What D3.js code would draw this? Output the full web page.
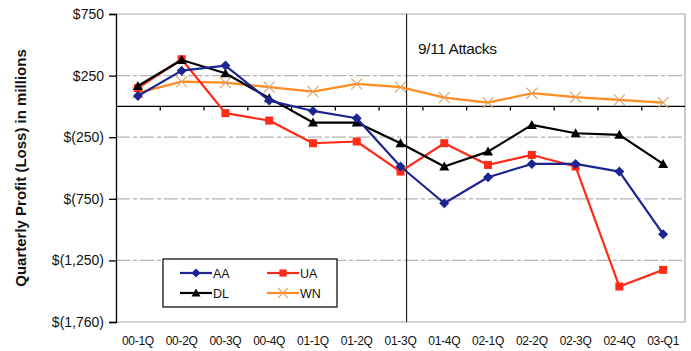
<!DOCTYPE html>
<html>
<head>
<meta charset="utf-8">
<script src="https://cdn.jsdelivr.net/npm/d3@7"></script>
<style>
  html, body { margin: 0; padding: 0; background: #fff; }
  svg { display: block; font-family: "Liberation Sans", Arial, sans-serif; }
</style>
</head>
<body>
<svg id="chart" width="691" height="351"></svg>
<script>
// Quarterly profit (loss), $ millions, by airline
const quarters = ["00-1Q","00-2Q","00-3Q","00-4Q","01-1Q","01-2Q","01-3Q","01-4Q","02-1Q","02-2Q","02-3Q","02-4Q","03-Q1"];
const aa = [85, 290, 331, 47, -37, -96, -488, -786, -575, -467, -467, -529, -1037];
const ua = [148, 383, -55, -115, -299, -285, -529, -299, -475, -394, -488, -1462, -1327];
const dl = [166, 377, 269, 67, -131, -131, -299, -488, -367, -150, -218, -231, -467];
const wn = [110, 201, 193, 156, 120, 183, 156, 71, 31, 107, 75, 53, 31];

const yTicks = [750, 250, -250, -750, -1250, -1750];
const yTickLabels = ["$750", "$250", "$(250)", "$(750)", "$(1,250)", "$(1,760)"];
const yDomain = [-1750, 750];

// Event marker: position on the category axis (in quarter units from the left edge)
const eventPos = 6.64;
const eventLabel = "9/11 Attacks";

const series = [
  { name: "AA", values: aa, color: "#1c2590", marker: "diamond" },
  { name: "UA", values: ua, color: "#ff2a18", marker: "square" },
  { name: "DL", values: dl, color: "#000000", marker: "triangle" },
  { name: "WN", values: wn, color: "#ff8c1e", marker: "cross", markerColor: "#e0a46c" }
];

const svg = d3.select("#chart");
const m = { left: 116, right: 685, top: 14, bottom: 322 };

const x = d3.scaleBand().domain(quarters).range([m.left, m.right]).padding(0);
const xLin = d3.scaleLinear().domain([0, quarters.length]).range([m.left, m.right]);
const y = d3.scaleLinear().domain(yDomain).range([m.bottom, m.top]);
const cx = q => x(q) + x.bandwidth() / 2;

// plot frame (top/right/bottom in gray)
svg.append("path")
  .attr("d", `M${m.left},${y(750)}H${m.right}V${y(-1750)}H${m.left}`)
  .attr("fill", "none").attr("stroke", "#a8a8a8").attr("stroke-width", 1.2);

// dash-dot gridlines
svg.append("g").selectAll("line")
  .data(yTicks.filter(v => v !== 750 && v !== -1750))
  .join("line")
  .attr("x1", m.left).attr("x2", m.right)
  .attr("y1", d => y(d)).attr("y2", d => y(d))
  .attr("stroke", "#b4b4b4").attr("stroke-width", 1.2)
  .attr("stroke-dasharray", "14,3,4,3");

// y axis
const yAxis = d3.axisLeft(y).tickValues(yTicks)
  .tickFormat((d, i) => yTickLabels[i]).tickSize(7).tickPadding(5);
const gy = svg.append("g").attr("transform", `translate(${m.left},0)`).call(yAxis);
gy.select(".domain").attr("stroke", "#000").attr("stroke-width", 1.3);
gy.selectAll(".tick line").attr("stroke", "#000").attr("stroke-width", 1.3);
gy.selectAll(".tick text").attr("font-size", 14).attr("fill", "#111")
  .attr("font-family", "'Liberation Sans', Arial, sans-serif");

// zero line with category boundary ticks
const gx = svg.append("g").attr("transform", `translate(0,${y(0)})`)
  .call(d3.axisBottom(xLin).tickValues(d3.range(1, quarters.length)).tickSize(4).tickFormat(""));
gx.select(".domain").attr("stroke", "#000").attr("stroke-width", 1.3)
  .attr("d", `M${m.left},0H${m.right}`);
gx.selectAll(".tick line").attr("stroke", "#000").attr("stroke-width", 1.3);

// category labels along the bottom
svg.append("g").selectAll("text").data(quarters).join("text")
  .attr("x", d => cx(d)).attr("y", 345)
  .attr("text-anchor", "middle").attr("font-size", 12).attr("fill", "#111")
  .attr("letter-spacing", "-0.3")
  .text(d => d);

// event line + label
svg.append("line")
  .attr("x1", xLin(eventPos)).attr("x2", xLin(eventPos))
  .attr("y1", y(750)).attr("y2", y(-1750))
  .attr("stroke", "#000").attr("stroke-width", 1);
svg.append("text").attr("x", 418).attr("y", 54)
  .attr("font-size", 15.5).attr("fill", "#111").attr("letter-spacing", "-0.4")
  .text(eventLabel);

// markers
function drawMarker(g, type, px, py, color, s) {
  if (type === "diamond") {
    g.append("path").attr("d", `M${px},${py - s}L${px + s},${py}L${px},${py + s}L${px - s},${py}Z`).attr("fill", color);
  } else if (type === "square") {
    g.append("rect").attr("x", px - s * 0.8).attr("y", py - s * 0.8)
      .attr("width", s * 1.6).attr("height", s * 1.6).attr("fill", color);
  } else if (type === "triangle") {
    g.append("path").attr("d", `M${px},${py - s}L${px + s},${py + s * 0.8}L${px - s},${py + s * 0.8}Z`).attr("fill", color);
  } else if (type === "cross") {
    g.append("path").attr("d", `M${px - s},${py - s}L${px + s},${py + s}M${px - s},${py + s}L${px + s},${py - s}`)
      .attr("stroke", color).attr("stroke-width", 1.2).attr("fill", "none");
  }
}

const line = d3.line().x((d, i) => cx(quarters[i])).y(d => y(d));

// draw order: WN, UA, DL, AA so the darker lines sit on top
const drawOrder = ["WN", "UA", "DL", "AA"];
drawOrder.forEach(name => {
  const s = series.find(t => t.name === name);
  const g = svg.append("g");
  g.append("path").datum(s.values).attr("d", line)
    .attr("fill", "none").attr("stroke", s.color).attr("stroke-width", 2.2)
    .attr("stroke-linejoin", "round");
  s.values.forEach((v, i) => {
    drawMarker(g, s.marker, cx(quarters[i]), y(v), s.markerColor || s.color, s.marker === "cross" ? 5.5 : 5);
  });
});

// legend
const lg = svg.append("g");
lg.append("rect").attr("x", 163).attr("y", 259).attr("width", 174).attr("height", 48)
  .attr("fill", "#fff").attr("stroke", "#000").attr("stroke-width", 1.2);
const legendPos = [
  { name: "AA", x: 180, y: 273 },
  { name: "UA", x: 267, y: 273 },
  { name: "DL", x: 180, y: 293 },
  { name: "WN", x: 267, y: 293 }
];
legendPos.forEach(p => {
  const s = series.find(t => t.name === p.name);
  lg.append("line").attr("x1", p.x).attr("x2", p.x + 32).attr("y1", p.y).attr("y2", p.y)
    .attr("stroke", s.color).attr("stroke-width", 2.2);
  drawMarker(lg, s.marker, p.x + 16, p.y, s.markerColor || s.color, s.marker === "cross" ? 5 : 4.5);
  lg.append("text").attr("x", p.x + 33).attr("y", p.y + 4.5)
    .attr("font-size", 12.5).attr("fill", "#111").text(s.name);
});

// y axis title
svg.append("text")
  .attr("transform", `translate(26,${(m.top + m.bottom) / 2}) rotate(-90)`)
  .attr("text-anchor", "middle").attr("font-size", 15).attr("font-weight", "bold")
  .attr("fill", "#111")
  .text("Quarterly Profit (Loss) in millions");
</script>
</body>
</html>
